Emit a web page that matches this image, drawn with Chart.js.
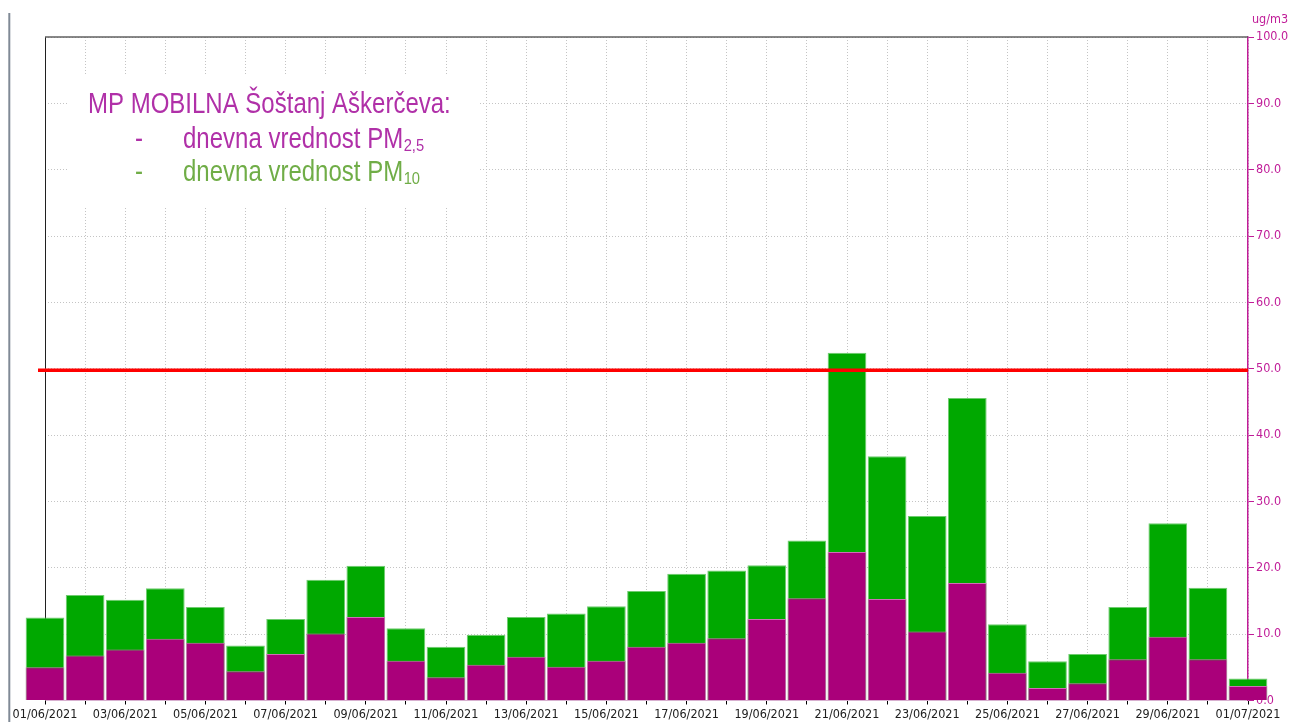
<!DOCTYPE html>
<html>
<head>
<meta charset="utf-8">
<script src="https://cdn.jsdelivr.net/npm/chart.js@4/dist/chart.umd.min.js"></script>
<style>
html,body{margin:0;padding:0;background:#fff;}
canvas{display:block;}
</style>
</head>
<body>
<canvas id="c" width="1292" height="722"></canvas>
<script>
const dates = ["01/06/2021","02/06/2021","03/06/2021","04/06/2021","05/06/2021","06/06/2021","07/06/2021","08/06/2021","09/06/2021","10/06/2021","11/06/2021","12/06/2021","13/06/2021","14/06/2021","15/06/2021","16/06/2021","17/06/2021","18/06/2021","19/06/2021","20/06/2021","21/06/2021","22/06/2021","23/06/2021","24/06/2021","25/06/2021","26/06/2021","27/06/2021","28/06/2021","29/06/2021","30/06/2021","01/07/2021"];
const pm10 = [12.5,15.9,15.2,16.9,14.1,8.3,12.3,18.2,20.3,10.9,8.1,9.9,12.6,13.1,14.2,16.5,19.1,19.6,20.4,24.1,52.4,36.8,27.8,45.6,11.5,5.9,7.0,14.1,26.7,17.0,3.3];
const pm25 = [5.0,6.8,7.7,9.3,8.7,4.4,7.0,10.1,12.6,6.0,3.5,5.4,6.6,5.1,6.0,8.1,8.7,9.4,12.3,15.4,22.4,15.3,10.4,17.7,4.2,1.9,2.6,6.2,9.6,6.2,2.2];
const limitValue = 50;
const yMin = 0, yMax = 100, yStep = 10;
const unitLabel = "ug/m3";
const titleLine = "MP MOBILNA Šoštanj Aškerčeva:";
const legendLines = [
  {text: "dnevna vrednost PM", sub: "2,5", color: "#b030a8"},
  {text: "dnevna vrednost PM", sub: "10", color: "#70ad47"}
];

const MAG = "#c01c98";
const AXIS_FONT = "'DejaVu Sans Condensed', 'DejaVu Sans', sans-serif";

const decor = {
  id: "decor",
  beforeDatasetsDraw(chart) {
    const ctx = chart.ctx, a = chart.chartArea;
    ctx.save();
    ctx.fillStyle = "#fff";
    ctx.fillRect(68, 75, 412, 133);
    ctx.strokeStyle = "#202020";
    ctx.lineWidth = 1;
    ctx.beginPath(); ctx.moveTo(a.left + 0.5, a.top); ctx.lineTo(a.left + 0.5, a.bottom); ctx.stroke();
    ctx.strokeStyle = "#606060";
    ctx.lineWidth = 1.5;
    ctx.beginPath(); ctx.moveTo(a.left, a.top); ctx.lineTo(a.right, a.top); ctx.stroke();
    ctx.strokeStyle = "#808a96";
    ctx.lineWidth = 2;
    ctx.beginPath(); ctx.moveTo(9.3, 13); ctx.lineTo(9.3, 722); ctx.stroke();
    ctx.restore();
  },
  afterDatasetsDraw(chart) {
    const ctx = chart.ctx, a = chart.chartArea;
    const y = chart.scales.y.getPixelForValue(limitValue) + 1.5;
    ctx.save();
    ctx.strokeStyle = "#ff0000";
    ctx.lineWidth = 3.5;
    ctx.beginPath(); ctx.moveTo(a.left - 7, y); ctx.lineTo(a.right, y); ctx.stroke();

    ctx.fillStyle = MAG;
    ctx.font = "12.5px " + AXIS_FONT;
    ctx.textAlign = "center";
    ctx.textBaseline = "middle";
    ctx.fillText(unitLabel, 1270, 20);

    ctx.textAlign = "left";
    ctx.textBaseline = "alphabetic";
    const drawScaled = (txt, x, yb, size, sx, color) => {
      ctx.save();
      ctx.font = size + "px 'Liberation Sans', Arial, sans-serif";
      ctx.fillStyle = color;
      ctx.translate(x, yb);
      ctx.scale(sx, 1);
      ctx.fillText(txt, 0, 0);
      const w = ctx.measureText(txt).width * sx;
      ctx.restore();
      return w;
    };
    drawScaled(titleLine, 88, 113, 30, 0.8, "#b030a8");
    const bases = [148, 180.5];
    legendLines.forEach((l, i) => {
      drawScaled("-", 135, bases[i], 30, 0.8, l.color);
      const w = drawScaled(l.text, 183, bases[i], 30, 0.8, l.color);
      drawScaled(l.sub, 183 + w + 0.5, bases[i] + 3, 16, 0.92, l.color);
    });
    ctx.restore();
  }
};

new Chart(document.getElementById("c"), {
  type: "bar",
  data: {
    labels: dates,
    datasets: [
      {
        label: "PM2.5",
        data: pm25,
        backgroundColor: "#aa007a",
        borderColor: "#cf6fb6",
        borderWidth: 1,
        borderSkipped: "bottom",
        grouped: false,
        order: 1,
        clip: false,
        barPercentage: 0.965,
        categoryPercentage: 1
      },
      {
        label: "PM10",
        data: pm10,
        backgroundColor: "#00a800",
        borderColor: "#6fcc6f",
        borderWidth: 1,
        borderSkipped: "bottom",
        grouped: false,
        order: 2,
        clip: false,
        barPercentage: 0.965,
        categoryPercentage: 1
      }
    ]
  },
  options: {
    responsive: false,
    animation: false,
    events: [],
    layout: {padding: {left: 45, top: 37, right: 0, bottom: 0}},
    plugins: {legend: {display: false}, tooltip: {enabled: false}},
    scales: {
      x: {
        type: "category",
        offset: false,
        grid: {
          offset: false,
          color: "#c4c4c4",
          lineWidth: 1,
          tickColor: "#000",
          tickLength: 4,
          tickWidth: 1
        },
        border: {display: true, color: "#d8b0d0", width: 1, dash: [1, 2]},
        ticks: {
          autoSkip: false,
          maxRotation: 0,
          minRotation: 0,
          padding: 3,
          color: "#202020",
          font: {family: AXIS_FONT, size: 12.5},
          callback: function(v, i) { return i % 2 === 0 ? dates[i] : ""; }
        },
        afterFit(s) { s.height = 21.5; }
      },
      y: {
        position: "right",
        min: yMin,
        max: yMax,
        grid: {
          color: "#c4c4c4",
          lineWidth: 1,
          tickColor: MAG,
          tickLength: 6,
          tickWidth: 1
        },
        border: {display: true, color: MAG, width: 1.5, dash: [1, 2]},
        ticks: {
          stepSize: yStep,
          padding: 2,
          color: MAG,
          font: {family: AXIS_FONT, size: 12.5},
          callback: v => Number(v).toFixed(1)
        },
        afterFit(s) { s.width = 44; }
      }
    }
  },
  plugins: [decor]
});
</script>
</body>
</html>
